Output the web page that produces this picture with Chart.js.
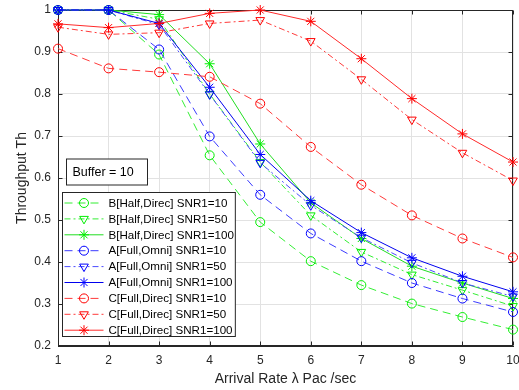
<!DOCTYPE html>
<html><head><meta charset="utf-8">
<script src="https://cdn.jsdelivr.net/npm/chart.js@4.4.0/dist/chart.umd.min.js"></script>
<style>html,body{margin:0;padding:0;background:#fff;overflow:hidden}</style>
</head><body>
<canvas id="c" width="519" height="390"></canvas>
<script>
// ---- data ----
const arrivalRate = [1, 2, 3, 4, 5, 6, 7, 8, 9, 10];
const yTickValues = [0.2, 0.3, 0.4, 0.5, 0.6, 0.7, 0.8, 0.9, 1];
const xTickValues = [1, 2, 3, 4, 5, 6, 7, 8, 9, 10];

const B_Half_Direc_SNR10  = [1.0, 1.0, 0.894, 0.654, 0.495, 0.402, 0.345, 0.301, 0.269, 0.239];
const B_Half_Direc_SNR50  = [1.0, 1.0, 0.978, 0.800, 0.638, 0.511, 0.424, 0.370, 0.333, 0.295];
const B_Half_Direc_SNR100 = [1.0, 1.0, 0.989, 0.872, 0.681, 0.541, 0.456, 0.390, 0.350, 0.313];
const A_Full_Omni_SNR10   = [1.0, 1.0, 0.906, 0.699, 0.560, 0.468, 0.402, 0.350, 0.313, 0.281];
const A_Full_Omni_SNR50   = [1.0, 1.0, 0.965, 0.799, 0.636, 0.535, 0.458, 0.398, 0.350, 0.318];
const A_Full_Omni_SNR100  = [1.0, 1.0, 0.968, 0.816, 0.656, 0.546, 0.470, 0.410, 0.366, 0.329];
const C_Full_Direc_SNR10  = [0.908, 0.861, 0.852, 0.841, 0.777, 0.674, 0.584, 0.511, 0.456, 0.411];
const C_Full_Direc_SNR50  = [0.959, 0.942, 0.946, 0.968, 0.976, 0.926, 0.835, 0.739, 0.660, 0.594];
const C_Full_Direc_SNR100 = [0.967, 0.958, 0.968, 0.992, 1.000, 0.973, 0.884, 0.789, 0.705, 0.638];

const seriesLabels = [
  'B[Half,Direc] SNR1=10', 'B[Half,Direc] SNR1=50', 'B[Half,Direc] SNR1=100',
  'A[Full,Omni] SNR1=10', 'A[Full,Omni] SNR1=50', 'A[Full,Omni] SNR1=100',
  'C[Full,Direc] SNR1=10', 'C[Full,Direc] SNR1=50', 'C[Full,Direc] SNR1=100'
];
const seriesValues = [
  B_Half_Direc_SNR10, B_Half_Direc_SNR50, B_Half_Direc_SNR100,
  A_Full_Omni_SNR10, A_Full_Omni_SNR50, A_Full_Omni_SNR100,
  C_Full_Direc_SNR10, C_Full_Direc_SNR50, C_Full_Direc_SNR100
];
const annotationText = 'Buffer = 10';
const xTitle = 'Arrival Rate \u03bb Pac /sec';
const yTitle = 'Throughput Th';

// ---- styles ----
const colors = ['#00ee00', '#00ee00', '#00ee00', '#0000ff', '#0000ff', '#0000ff', '#ff0000', '#ff0000', '#ff0000'];
const lineColors = ['#33ee33', '#33ee33', '#22dd22', '#3a3aff', '#4a4aff', '#0000ee', '#ff3a3a', '#ff3a3a', '#ff2a2a'];
const dashes = [[8, 5], [6, 3, 2, 3], [], [8, 5], [6, 3, 2, 3], [], [8, 5], [6, 3, 2, 3], []];
const pStyles = ['circle', 'triangle', 'star', 'circle', 'triangle', 'star', 'circle', 'triangle', 'star'];
const pRot = [0, 180, 0, 0, 180, 0, 0, 180, 0];
const pRad = [4.5, 5, 5, 4.5, 5, 5, 4.5, 5, 5];

const FONT = "'Liberation Sans', Arial, Helvetica, sans-serif";
const AXIS_COLOR = '#262626';

const datasets = seriesValues.map((vals, i) => ({
  label: seriesLabels[i],
  data: arrivalRate.map((x, k) => ({x: x, y: vals[k]})),
  borderColor: lineColors[i],
  backgroundColor: 'rgba(0,0,0,0)',
  borderWidth: 1,
  borderDash: dashes[i],
  pointStyle: pStyles[i],
  pointRotation: pRot[i],
  pointRadius: pRad[i],
  pointBorderColor: colors[i],
  pointBackgroundColor: 'rgba(0,0,0,0)',
  pointBorderWidth: 1,
  tension: 0,
  fill: false,
  clip: false,
  order: seriesValues.length - 1 - i
}));

function drawMarker(ctx, style, rot, r, x, y, color) {
  ctx.save();
  ctx.setLineDash([]);
  ctx.strokeStyle = color;
  ctx.fillStyle = 'rgba(0,0,0,0)';
  ctx.lineWidth = 1;
  if (Chart.helpers && Chart.helpers.drawPoint) {
    Chart.helpers.drawPoint(ctx, {pointStyle: style, rotation: rot, radius: r, borderWidth: 1}, x, y);
  }
  ctx.restore();
}

const framePlugin = {
  id: 'frame',
  beforeDatasetsDraw(chart) {
    const {ctx, chartArea: a, scales} = chart;
    const L = Math.round(a.left) + 0.5, R = Math.round(a.right) - 0.5;
    const T = Math.round(a.top) + 0.5, B = Math.round(a.bottom) - 0.5;
    ctx.save();
    ctx.strokeStyle = AXIS_COLOR;
    ctx.lineWidth = 1;
    ctx.setLineDash([]);
    ctx.strokeRect(L, T, R - L, B - T);
    ctx.beginPath();
    yTickValues.forEach(v => {
      const y = Math.round(scales.y.getPixelForValue(v)) + 0.5;
      ctx.moveTo(L, y); ctx.lineTo(L + 4, y);
      ctx.moveTo(R, y); ctx.lineTo(R - 4, y);
    });
    xTickValues.forEach(v => {
      const x = Math.round(scales.x.getPixelForValue(v)) + 0.5;
      ctx.moveTo(x, B); ctx.lineTo(x, B - 4);
      ctx.moveTo(x, T); ctx.lineTo(x, T + 4);
    });
    ctx.stroke();
    ctx.restore();
  },
  afterDraw(chart) {
    const {ctx, chartArea: a} = chart;
    ctx.save();
    // annotation box
    ctx.font = '12.5px ' + FONT;
    const bx = a.left + 8.5, by = a.top + 149, bw = 81, bh = 26;
    ctx.fillStyle = '#fff';
    ctx.fillRect(bx, by, bw, bh);
    ctx.strokeStyle = AXIS_COLOR;
    ctx.lineWidth = 1;
    ctx.strokeRect(bx, by, bw, bh);
    ctx.fillStyle = '#000';
    ctx.textBaseline = 'middle';
    ctx.textAlign = 'left';
    ctx.fillText(annotationText, bx + 6, by + bh / 2 + 0.5);

    // legend
    ctx.font = '11.6px ' + FONT;
    let maxW = 0;
    seriesLabels.forEach(t => { maxW = Math.max(maxW, ctx.measureText(t).width); });
    const lx = a.left + 4.5, ly = a.top + 182.5, rowH = 15.9;
    const textX = lx + 46;
    const lw = Math.max(172, textX - lx + maxW + 1.5), lh = 144;
    ctx.fillStyle = '#fff';
    ctx.fillRect(lx, ly, lw, lh);
    ctx.strokeStyle = AXIS_COLOR;
    ctx.strokeRect(lx, ly, lw, lh);
    seriesLabels.forEach((t, i) => {
      const yy = ly + 10 + i * rowH;
      ctx.save();
      ctx.strokeStyle = lineColors[i];
      ctx.lineWidth = 1;
      ctx.setLineDash(dashes[i]);
      ctx.beginPath();
      ctx.moveTo(lx + 2, yy + 0.5);
      ctx.lineTo(lx + 41, yy + 0.5);
      ctx.stroke();
      ctx.restore();
      drawMarker(ctx, pStyles[i], pRot[i], pRad[i], lx + 21.5, yy + 0.5, colors[i]);
      ctx.fillStyle = '#000';
      ctx.textBaseline = 'middle';
      ctx.textAlign = 'left';
      ctx.fillText(t, textX, yy + 1);
    });
    ctx.restore();
  }
};

new Chart(document.getElementById('c'), {
  type: 'line',
  data: {datasets: datasets},
  options: {
    responsive: false,
    animation: false,
    devicePixelRatio: 1,
    layout: {padding: {top: 10, right: 4, left: 0, bottom: 0}},
    plugins: {legend: {display: false}, tooltip: {enabled: false}},
    scales: {
      x: {
        type: 'linear', min: 1, max: 10,
        afterFit(s) { s.height = 44; s.paddingLeft = 0; s.paddingRight = 0; },
        afterBuildTicks(s) { s.ticks = xTickValues.map(v => ({value: v})); },
        ticks: {padding: 7.5, color: AXIS_COLOR, font: {family: FONT, size: 12}, callback: v => String(v)},
        grid: {color: '#e2e2e2', drawTicks: false},
        border: {display: true, color: AXIS_COLOR},
        title: {display: true, text: xTitle, color: AXIS_COLOR, font: {family: FONT, size: 14}, padding: {top: 0, bottom: 2}}
      },
      y: {
        type: 'linear', min: 0.2, max: 1,
        afterFit(s) { s.width = 58; s.paddingTop = 0; s.paddingBottom = 0; },
        afterBuildTicks(s) { s.ticks = yTickValues.map(v => ({value: v})); },
        ticks: {padding: 7, color: AXIS_COLOR, font: {family: FONT, size: 12},
          callback: v => String(Number(v.toFixed(1)))},
        grid: {color: '#e2e2e2', drawTicks: false},
        border: {display: true, color: AXIS_COLOR},
        title: {display: true, text: yTitle, color: AXIS_COLOR, font: {family: FONT, size: 14}, padding: {top: 14, bottom: 0}}
      }
    }
  },
  plugins: [framePlugin]
});
</script>
</body></html>
